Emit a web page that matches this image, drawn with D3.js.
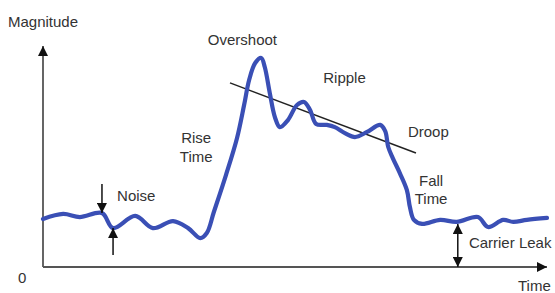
<!DOCTYPE html>
<html>
<head>
<script src="https://d3js.org/d3.v7.min.js"></script>
<style>
  body { margin: 0; background: #ffffff; }
  text { font-family: "Liberation Sans", Arial, sans-serif; font-size: 15px; fill: #333; }
</style>
</head>
<body>
<div class="chart"></div>
<script>
// pulse shape, time and magnitude in arbitrary units (0..100)
var time = [0, 4.0, 7.3, 11.7, 13.9, 18.3, 21.8, 25.8, 28.8, 31.2, 32.5, 33.9, 36.3, 38.5, 39.9,
            40.9, 42.1, 43.3, 44.0, 45.0, 46.0, 47.0, 48.6, 50.4, 51.8, 53.0, 54.2, 56.3,
            57.9, 59.9, 61.9, 64.3, 66.9, 67.9, 68.5, 69.4, 70.8, 72.2, 72.8, 73.6, 75.2,
            78.8, 82.1, 86.3, 88.3, 91.3, 93.3, 96.0, 100];
var magnitude = [21.7, 24.0, 22.6, 24.4, 17.6, 23.1, 17.6, 20.8, 17.6, 13.1, 15.4, 24.9, 41.6, 58.4, 73.3,
                 84.6, 92.3, 94.6, 90.5, 78.7, 67.9, 63.3, 66.5, 73.3, 74.7, 71.0, 64.7, 64.3,
                 63.3, 60.6, 58.8, 61.1, 64.3, 61.5, 54.3, 49.3, 42.5, 34.8, 27.1, 21.3, 19.5,
                 21.3, 20.4, 22.6, 18.1, 21.3, 20.4, 21.3, 22.2];

// droop trend line endpoints
var droopTime = [37.1, 74.0];
var droopMag = [83.3, 51.6];

// noise arrows (time, from, to)
var noiseArrows = [[11.7, 37.6, 24.4], [13.9, 5.4, 17.6]];
// carrier leak double arrow
var leakTime = 82.3, leakMag = 19.5;

var labels = [
  {text: "Noise", t: 14.7, m: 29.9, anchor: "start"},
  {text: "Rise", t: 30.4, m: 56.1, anchor: "middle"},
  {text: "Time", t: 30.4, m: 47.5, anchor: "middle"},
  {text: "Overshoot", t: 32.7, m: 100.5, anchor: "start"},
  {text: "Ripple", t: 55.6, m: 83.3, anchor: "start"},
  {text: "Droop", t: 72.4, m: 58.8, anchor: "start"},
  {text: "Fall", t: 77.0, m: 36.7, anchor: "middle"},
  {text: "Time", t: 77.0, m: 28.5, anchor: "middle"},
  {text: "Carrier Leak", t: 84.5, m: 8.6, anchor: "start"}
];

var width = 555, height = 293;
var svg = d3.select(".chart").append("svg")
    .attr("width", width)
    .attr("height", height);

var x = d3.scaleLinear().domain([0, 100]).range([43, 547]);
var y = d3.scaleLinear().domain([0, 100]).range([267, 46]);

var defs = svg.append("defs");
function marker(id, color) {
  defs.append("marker")
      .attr("id", id)
      .attr("viewBox", "0 0 10 10")
      .attr("refX", 10).attr("refY", 5)
      .attr("markerUnits", "userSpaceOnUse")
      .attr("markerWidth", 12).attr("markerHeight", 10)
      .attr("orient", "auto-start-reverse")
    .append("path")
      .attr("d", "M0,0 L10,5 L0,10 z")
      .attr("fill", color);
}
marker("head", "#111");

// axes
svg.append("line")
    .attr("x1", x(0)).attr("x2", x(0))
    .attr("y1", y(0)).attr("y2", y(100))
    .attr("stroke", "#555").attr("stroke-width", 1.8)
    .attr("marker-end", "url(#head)");
svg.append("line")
    .attr("x1", x(0)).attr("x2", x(100))
    .attr("y1", y(0)).attr("y2", y(0))
    .attr("stroke", "#555").attr("stroke-width", 1.8)
    .attr("marker-end", "url(#head)");

svg.append("text").attr("x", 8).attr("y", 27).text("Magnitude");
svg.append("text").attr("x", 18).attr("y", 283).text("0");
svg.append("text").attr("x", 518).attr("y", 291).text("Time");

// droop line
svg.append("line")
    .attr("x1", x(droopTime[0])).attr("y1", y(droopMag[0]))
    .attr("x2", x(droopTime[1])).attr("y2", y(droopMag[1]))
    .attr("stroke", "#222").attr("stroke-width", 1.5);

// pulse
var pts = time.map(function(t, i) { return [t, magnitude[i]]; });
var line = d3.line()
    .x(function(d) { return x(d[0]); })
    .y(function(d) { return y(d[1]); })
    .curve(d3.curveCatmullRom);

svg.append("path")
    .datum(pts)
    .attr("d", line)
    .attr("fill", "none")
    .attr("stroke", "#3a4fb5")
    .attr("stroke-width", 4.2)
    .attr("stroke-linejoin", "round")
    .attr("stroke-linecap", "round");

// noise arrows
noiseArrows.forEach(function(a) {
  svg.append("line")
      .attr("x1", x(a[0])).attr("x2", x(a[0]))
      .attr("y1", y(a[1])).attr("y2", y(a[2]))
      .attr("stroke", "#111").attr("stroke-width", 1.5)
      .attr("marker-end", "url(#head)");
});

// carrier leak
svg.append("line")
    .attr("x1", x(leakTime)).attr("x2", x(leakTime))
    .attr("y1", y(0)).attr("y2", y(leakMag))
    .attr("stroke", "#111").attr("stroke-width", 1.5)
    .attr("marker-start", "url(#head)")
    .attr("marker-end", "url(#head)");

svg.selectAll(".lbl")
    .data(labels)
  .enter().append("text")
    .attr("class", "lbl")
    .attr("x", function(d) { return x(d.t); })
    .attr("y", function(d) { return y(d.m); })
    .attr("text-anchor", function(d) { return d.anchor; })
    .text(function(d) { return d.text; });
</script>
</body>
</html>
